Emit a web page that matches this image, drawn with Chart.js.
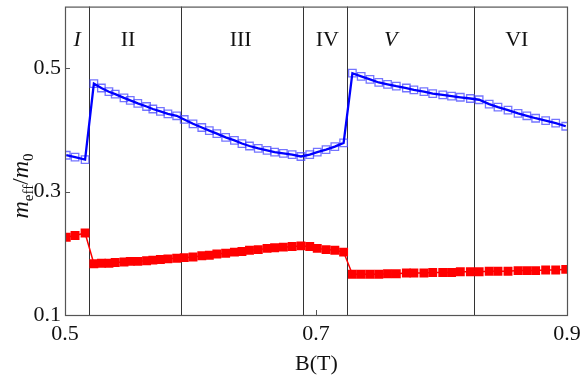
<!DOCTYPE html>
<html>
<head>
<meta charset="utf-8">
<script src="https://cdn.jsdelivr.net/npm/chart.js@4"></script>
<style>
  body { margin: 0; background: #fff; }
  canvas { display: block; }
</style>
</head>
<body>
<canvas id="massChart" width="581" height="381"></canvas>
<script>
// Magnetic field samples B (T)
const fieldB = [
  0.501, 0.508, 0.516,
  0.523, 0.529, 0.535, 0.540, 0.547, 0.552, 0.558, 0.565, 0.570, 0.576, 0.582, 0.589,
  0.595, 0.602, 0.609, 0.615, 0.621, 0.628, 0.635, 0.641, 0.647, 0.654, 0.661, 0.667, 0.674, 0.681, 0.688,
  0.695, 0.701, 0.708, 0.715, 0.722,
  0.729, 0.736, 0.743, 0.750, 0.757, 0.764, 0.772, 0.778, 0.786, 0.793, 0.801, 0.808, 0.815, 0.823,
  0.830, 0.838, 0.845, 0.853, 0.861, 0.868, 0.875, 0.883, 0.891, 0.899
];

// heavier branch (open blue squares)
const massHeavy = [
  0.359, 0.356, 0.352,
  0.475, 0.468, 0.462, 0.458, 0.452, 0.448, 0.443, 0.438, 0.434, 0.430, 0.426, 0.423,
  0.417, 0.410, 0.404, 0.399, 0.394, 0.388, 0.383, 0.378, 0.374, 0.370, 0.367, 0.364, 0.362, 0.360, 0.357,
  0.360, 0.364, 0.368, 0.373, 0.379,
  0.492, 0.487, 0.482, 0.477, 0.474, 0.471, 0.468, 0.465, 0.462, 0.459, 0.457, 0.455, 0.453, 0.451,
  0.449, 0.442, 0.437, 0.432, 0.427, 0.423, 0.419, 0.415, 0.411, 0.406
];

// lighter branch (filled red squares)
const massLight = [
  0.226, 0.229, 0.233,
  0.183, 0.184, 0.184, 0.185, 0.186, 0.187, 0.187, 0.188, 0.189, 0.190, 0.191, 0.192,
  0.193, 0.194, 0.196, 0.197, 0.199, 0.200, 0.202, 0.203, 0.205, 0.206, 0.208, 0.209, 0.210, 0.211, 0.212,
  0.211, 0.208, 0.206, 0.205, 0.202,
  0.166, 0.166, 0.166, 0.166, 0.167, 0.167, 0.168, 0.168, 0.168, 0.169, 0.169, 0.169, 0.170, 0.170,
  0.170, 0.171, 0.171, 0.171, 0.172, 0.172, 0.172, 0.173, 0.173, 0.174
];

const regionBounds = [0.5195, 0.5922, 0.6899, 0.725, 0.8257];
const regionNames = ["I", "II", "III", "IV", "V", "VI"];
const regionLabelB = [0.5096, 0.5502, 0.640, 0.709, 0.7596, 0.860];
const italicRegions = ["I", "V"];

const xTicks = [0.5, 0.7, 0.9];
const yTicks = [0.1, 0.3, 0.5];

const SERIF = "'Liberation Serif', 'Times New Roman', Times, serif";

function toPoints(ys) {
  return fieldB.map((b, i) => ({ x: b, y: ys[i] }));
}

// frame, region dividers, region names, inward ticks and axis titles
const decorations = {
  id: "decorations",
  beforeDatasetsDraw(chart) {
    const { ctx, chartArea: a, scales } = chart;
    ctx.save();
    ctx.strokeStyle = "#333";
    ctx.lineWidth = 1;
    regionBounds.forEach((b) => {
      const x = Math.round(scales.x.getPixelForValue(b)) + 0.5;
      ctx.beginPath();
      ctx.moveTo(x, a.top);
      ctx.lineTo(x, a.bottom);
      ctx.stroke();
    });
    ctx.restore();
  },
  afterDraw(chart) {
    const { ctx, chartArea: a, scales } = chart;
    ctx.save();

    ctx.strokeStyle = "#555";
    ctx.lineWidth = 1.2;
    ctx.strokeRect(a.left + 0.5, a.top + 0.5, a.right - a.left, a.bottom - a.top);

    ctx.lineWidth = 1;
    yTicks.forEach((v) => {
      const y = Math.round(scales.y.getPixelForValue(v)) + 0.5;
      ctx.beginPath();
      ctx.moveTo(a.left, y);
      ctx.lineTo(a.left + 5, y);
      ctx.stroke();
    });
    xTicks.forEach((v) => {
      const x = Math.round(scales.x.getPixelForValue(v)) + 0.5;
      ctx.beginPath();
      ctx.moveTo(x, a.bottom);
      ctx.lineTo(x, a.bottom - 5);
      ctx.stroke();
    });

    ctx.fillStyle = "#111";
    ctx.textAlign = "center";
    ctx.textBaseline = "alphabetic";
    regionNames.forEach((name, i) => {
      const italic = italicRegions.includes(name) ? "italic " : "";
      ctx.font = italic + "22px " + SERIF;
      ctx.fillText(name, scales.x.getPixelForValue(regionLabelB[i]), 46);
    });

    ctx.font = "22px " + SERIF;
    ctx.fillText("B(T)", (a.left + a.right) / 2 + 0.5, 370);

    // y title: m_eff / m_0, rotated
    const parts = [
      { t: "m", f: "italic 24px " + SERIF, dy: 0 },
      { t: "eff", f: "15px " + SERIF, dy: 5 },
      { t: "/", f: "23px " + SERIF, dy: 0 },
      { t: "m", f: "italic 24px " + SERIF, dy: 0 },
      { t: "0", f: "15px " + SERIF, dy: 5 },
    ];
    let total = 0;
    parts.forEach((p) => {
      ctx.font = p.f;
      p.w = ctx.measureText(p.t).width;
      total += p.w;
    });
    ctx.translate(28, 186);
    ctx.rotate(-Math.PI / 2);
    ctx.textAlign = "left";
    let cx = -total / 2;
    parts.forEach((p) => {
      ctx.font = p.f;
      ctx.fillText(p.t, cx, p.dy);
      cx += p.w;
    });
    ctx.restore();
  },
};

function initChart() {
  const ctx = document.getElementById("massChart").getContext("2d");
  new Chart(ctx, {
    type: "line",
    data: {
      datasets: [
        {
          label: "heavy markers",
          data: toPoints(massHeavy),
          showLine: false,
          pointStyle: "rect",
          pointRadius: 5.3,
          pointBorderWidth: 1.3,
          pointBorderColor: "rgba(70,70,255,0.75)",
          pointBackgroundColor: "rgba(0,0,0,0)",
          order: 3,
        },
        {
          label: "heavy line",
          data: toPoints(massHeavy),
          borderColor: "#0000ff",
          borderWidth: 2.3,
          pointRadius: 0,
          tension: 0,
          order: 2,
        },
        {
          label: "light",
          data: toPoints(massLight),
          borderColor: "#ff0000",
          borderWidth: 1.5,
          pointStyle: "rect",
          pointRadius: 6.3,
          pointBorderWidth: 0,
          pointBackgroundColor: "#ff0000",
          tension: 0,
          order: 1,
        },
      ],
    },
    options: {
      responsive: false,
      animation: false,
      devicePixelRatio: 1,
      layout: { padding: { top: 5, right: 14, left: 0, bottom: 0 } },
      plugins: {
        legend: { display: false },
        tooltip: { enabled: false },
      },
      scales: {
        x: {
          type: "linear",
          min: 0.5,
          max: 0.9,
          afterBuildTicks: (scale) => { scale.ticks = xTicks.map((v) => ({ value: v })); },
          afterFit: (scale) => {
            scale.height = 66;
            scale.paddingLeft = 0;
            scale.paddingRight = 0;
          },
          grid: { display: false, drawTicks: false },
          border: { display: false },
          ticks: {
            color: "#111",
            padding: 6,
            maxRotation: 0,
            font: { family: SERIF, size: 22 },
            callback: (v) => v.toFixed(1),
          },
        },
        y: {
          min: 0.1,
          max: 0.6,
          afterBuildTicks: (scale) => { scale.ticks = yTicks.map((v) => ({ value: v })); },
          afterFit: (scale) => {
            scale.width = 65;
            scale.paddingTop = 0;
            scale.paddingBottom = 0;
          },
          grid: { display: false, drawTicks: false },
          border: { display: false },
          ticks: {
            color: "#111",
            padding: 4,
            font: { family: SERIF, size: 22 },
            callback: (v) => v.toFixed(1),
          },
        },
      },
    },
    plugins: [decorations],
  });
}

document.addEventListener("DOMContentLoaded", initChart);
</script>
</body>
</html>
